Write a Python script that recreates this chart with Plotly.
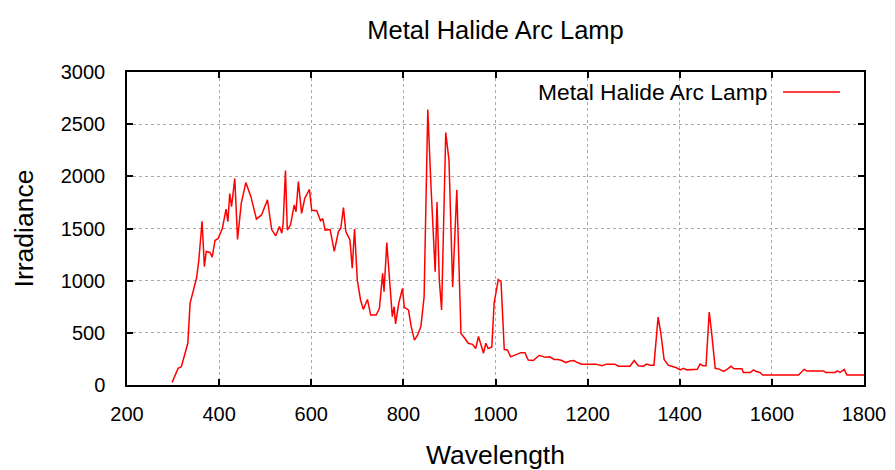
import plotly.graph_objects as go

wavelength = [298, 311, 318, 326, 332, 337, 344, 351, 356, 363, 368, 372, 380, 385, 391, 398,
              407, 415, 419, 423, 427, 434, 440, 448, 458, 469, 481, 492, 505, 514, 523, 531,
              536, 539, 544, 548, 555, 563, 567, 572, 579, 586, 596, 601, 612, 620, 625, 630,
              641, 650, 659, 664, 670, 675, 684, 689, 694, 700, 707, 713, 722, 729, 741, 748,
              755, 758, 764, 769, 776, 780, 783, 790, 798, 802, 811, 817, 824, 831, 838, 845,
              853, 860, 869, 873, 878, 883, 892, 899, 907, 916, 925, 932, 941, 950, 957, 963,
              968, 974, 979, 984, 992, 997, 1006, 1012, 1019, 1026, 1033, 1045, 1055, 1064, 1071, 1082,
              1095, 1108, 1118, 1127, 1136, 1144, 1153, 1162, 1170, 1178, 1187, 1198, 1218, 1231, 1241, 1259,
              1267, 1292, 1301, 1310, 1321, 1328, 1335, 1344, 1353, 1359, 1366, 1375, 1386, 1393, 1401, 1408,
              1416, 1429, 1438, 1444, 1450, 1457, 1464, 1469, 1477, 1487, 1495, 1503, 1511, 1518, 1535, 1538,
              1553, 1560, 1566, 1574, 1580, 1600, 1658, 1670, 1676, 1712, 1717, 1737, 1742, 1748, 1757, 1763,
              1800]
irradiance = [25, 160, 175, 305, 400, 785, 910, 1025, 1200, 1570, 1135, 1280, 1270, 1225, 1385, 1405,
              1500, 1685, 1565, 1835, 1710, 1980, 1395, 1740, 1940, 1805, 1590, 1630, 1775, 1490, 1430, 1520,
              1455, 1550, 2055, 1485, 1535, 1725, 1660, 1950, 1645, 1790, 1875, 1675, 1670, 1575, 1595, 1485,
              1490, 1280, 1470, 1500, 1700, 1470, 1390, 1120, 1495, 1005, 815, 725, 820, 670, 670, 735,
              1070, 895, 1365, 1070, 655, 750, 585, 785, 925, 745, 720, 560, 430, 480, 560, 845,
              2640, 1900, 1085, 1755, 1005, 720, 2420, 2155, 940, 1870, 495, 455, 400, 390, 350, 465,
              385, 305, 400, 350, 365, 785, 1010, 990, 340, 335, 270, 290, 310, 310, 240, 235,
              285, 265, 270, 245, 245, 235, 215, 230, 235, 215, 200, 200, 200, 185, 200, 200,
              180, 180, 235, 185, 180, 200, 190, 190, 650, 495, 245, 190, 175, 165, 145, 160,
              145, 150, 150, 200, 185, 185, 700, 510, 160, 150, 130, 150, 180, 155, 155, 120,
              120, 145, 130, 120, 95, 95, 95, 150, 135, 135, 120, 120, 135, 120, 150, 95,
              95]

x_ticks = [200, 400, 600, 800, 1000, 1200, 1400, 1600, 1800]
y_ticks = [0, 500, 1000, 1500, 2000, 2500, 3000]
series_name = "Metal Halide Arc Lamp"

FONT = "Liberation Sans"

fig = go.Figure()
fig.add_trace(go.Scatter(x=wavelength, y=irradiance, mode="lines", name=series_name,
                         line=dict(color="#ff0000", width=1.5), showlegend=False))

axis_common = dict(showline=True, linecolor="black", linewidth=1.5, mirror="ticks",
                   ticks="inside", ticklen=6, tickwidth=1.5, tickcolor="black",
                   showgrid=True, gridcolor="#a8a8a8", gridwidth=1, griddash="dot",
                   zeroline=False, automargin=False,
                   tickfont=dict(family=FONT, size=20, color="black"))

fig.update_xaxes(range=[200, 1800], tickvals=x_ticks, ticktext=[str(v) for v in x_ticks],
                 title=dict(text="Wavelength", font=dict(family=FONT, size=26.5, color="black"), standoff=24),
                 ticklabelstandoff=10, **axis_common)
fig.update_yaxes(range=[0, 3000], tickvals=y_ticks, ticktext=[str(v) for v in y_ticks],
                 title=dict(text="Irradiance", font=dict(family=FONT, size=26.5, color="black"), standoff=19),
                 ticklabelstandoff=16, **axis_common)

# legend key (gnuplot style: text then line sample)
fig.add_annotation(x=0.8711, y=0.9361, xref="paper", yref="paper", text=series_name,
                   showarrow=False, xanchor="right", yanchor="middle",
                   font=dict(family=FONT, size=22.8, color="black"))
fig.add_shape(type="line", xref="paper", yref="paper", x0=0.8901, x1=0.9674, y0=0.9361, y1=0.9361,
              line=dict(color="#ff0000", width=1.5))

fig.update_layout(
    width=895, height=470,
    margin=dict(l=127, r=31, t=72, b=85),
    paper_bgcolor="white", plot_bgcolor="white",
    title=dict(text="Metal Halide Arc Lamp", x=0.5, xref="paper", xanchor="center",
               y=1 - 30 / 470, yref="container", yanchor="middle",
               font=dict(family=FONT, size=25.5, color="black")),
    showlegend=False,
)

fig.write_html("out.html")
